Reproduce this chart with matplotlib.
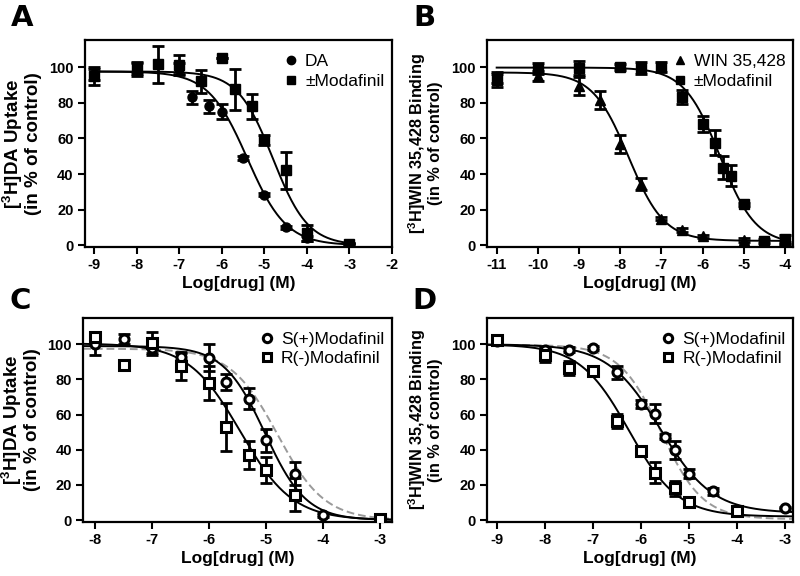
import numpy as np
import matplotlib
matplotlib.use('Agg')
import matplotlib.pyplot as plt
from matplotlib.lines import Line2D

# Panel A: [3H]DA uptake, DA vs racemic modafinil
a_x_da = [-9, -8, -7, -6.7, -6.3, -6, -5.5, -5, -4.5, -4, -3]
a_y_da = [96, 99, 99, 83, 78, 75, 49, 28.5, 10, 4, 1]
a_e_da = [3, 3, 3, 3.5, 3.5, 4, 1, 1, 1, 1.5, 0.5]
a_x_mod = [-9, -8, -7.5, -7, -6.5, -6, -5.7, -5.3, -5, -4.5, -4, -3]
a_y_mod = [95, 99, 101.5, 101, 92, 105, 87.5, 78, 59, 42, 7, 1]
a_e_mod = [5, 4, 10.5, 5.5, 6.5, 0, 11.5, 7, 3, 10.5, 4.5, 0.5]
# fit parameters: top, bottom, logIC50, hill slope
a_fit_da = [97.5, 0, -5.4, 0.95]
a_fit_mod = [97.5, 0, -4.8, 1.05]

# Panel B: [3H]WIN 35,428 binding
b_x_win = [-11, -10, -9, -8.5, -8, -7.5, -7, -6.5, -6, -5, -4]
b_y_win = [94, 95, 89.5, 81.5, 57, 34.5, 15, 8.5, 5, 3, 1]
b_e_win = [3, 3, 5, 5, 5, 3.5, 1, 1, 1, 1, 1]
b_x_mod = [-11, -10, -9, -8, -7.5, -7, -6.5, -6, -5.7, -5.5, -5.3, -5, -4.5, -4]
b_y_mod = [92.5, 99, 99.5, 100, 99.5, 100, 83, 68, 57.5, 43.5, 39, 23, 2.5, 3.5]
b_e_mod = [3.5, 3, 4, 1.5, 3.5, 3, 4, 4.5, 7, 6.5, 6, 1, 1, 2.5]
b_fit_win = [97, 2.5, -7.8, 1.0]
b_fit_mod = [99.7, 0.5, -5.58, 1.0]

# Panel C: [3H]DA uptake, enantiomers
c_x_s = [-8, -7.5, -7, -6.5, -6, -5.7, -5.3, -5, -4.5, -4, -3]
c_y_s = [100, 103, 98, 93, 92.5, 78.5, 69, 45.5, 26.5, 3, 0.5]
c_e_s = [6, 3, 4, 2, 7.5, 4.5, 6, 6.5, 6.5, 1, 0.5]
c_x_r = [-8, -7.5, -7, -6.5, -6, -5.7, -5.3, -5, -4.5, -3]
c_y_r = [104, 88.5, 101, 87.5, 78, 53, 37, 28.5, 14.5, 0.5]
c_e_r = [3, 0, 6, 8, 9.5, 13.5, 8, 7.5, 9.5, 0.5]
c_fit_s = [99, 0, -5.02, 1.2]
c_fit_r = [100.5, 0, -5.45, 0.95]

# Panel D: [3H]WIN 35,428 binding, enantiomers
d_x_s = [-9, -8, -7.5, -7, -6.5, -6, -5.7, -5.5, -5.3, -5, -4.5, -4, -3]
d_y_s = [102, 97, 97, 98, 84, 66, 60.5, 47.5, 40, 26.5, 16.5, 5.5, 7]
d_e_s = [1, 1.5, 1.5, 1, 3.5, 2.5, 5.5, 1.5, 5, 2.5, 2, 1.5, 0.5]
d_x_r = [-9, -8, -7.5, -7, -6.5, -6, -5.7, -5.3, -5, -4]
d_y_r = [102.5, 94, 86.5, 85, 56.5, 39.5, 27, 18, 10.5, 5]
d_e_r = [1.5, 4, 4, 1, 4, 2.5, 6, 4.5, 2, 1]
d_fit_s = [100, 4, -5.6, 0.8]
d_fit_r = [100, 2, -6.25, 0.85]

TICK_FONT = {'family': 'Liberation Sans', 'weight': 'bold', 'size': 10.5}
XLABEL_FONT = {'family': 'Liberation Sans', 'weight': 'bold', 'size': 12.5}
LEGEND_FONT = {'family': 'Liberation Sans', 'size': 12.5}

plt.rcParams['mathtext.fontset'] = 'custom'
plt.rcParams['mathtext.rm'] = 'Liberation Sans'
plt.rcParams['mathtext.bf'] = 'Liberation Sans:bold'


def logistic(x, fit):
    top, bottom, logic50, hill = fit
    return bottom + (top - bottom) / (1 + 10 ** ((x - logic50) * hill))


def draw_curve(ax, fit, x0, x1, color='black', ls='-'):
    xs = np.linspace(x0, x1, 300)
    ax.plot(xs, logistic(xs, fit), color=color, ls=ls, lw=1.4, zorder=2)


def draw_points(ax, x, y, e, marker, open_marker=False, ms=6.5):
    ax.errorbar(x, y, yerr=e, fmt='none', ecolor='black', elinewidth=2,
                capsize=4, capthick=2, zorder=3)
    if open_marker:
        ax.plot(x, y, ls='none', marker=marker, ms=ms, mfc='white',
                mec='black', mew=2.2, zorder=4)
    else:
        ax.plot(x, y, ls='none', marker=marker, ms=ms, color='black', zorder=4)


def style_axes(ax, xlim, xticks, ylabel, ylabel_size, ylabel_pad):
    ax.set_xlim(xlim)
    ax.set_ylim(-1, 115)
    ax.set_xticks(xticks)
    ax.set_yticks([0, 20, 40, 60, 80, 100])
    ax.set_xticklabels([str(t) for t in xticks], fontdict=TICK_FONT)
    ax.set_yticklabels(['0', '20', '40', '60', '80', '100'], fontdict=TICK_FONT)
    ax.tick_params(direction='out', length=5, width=1.5, pad=3)
    for sp in ax.spines.values():
        sp.set_linewidth(1.6)
    ax.set_xlabel('Log[drug] (M)', fontdict=XLABEL_FONT, labelpad=3)
    ax.set_ylabel(ylabel, family='Liberation Sans', fontweight='bold',
                  fontsize=ylabel_size, labelpad=ylabel_pad, linespacing=1.0)


def add_legend(ax, entries, open_marker=False):
    handles = []
    labels = []
    for marker, label in entries:
        if open_marker:
            h = Line2D([], [], ls='none', marker=marker, ms=6, mfc='white',
                       mec='black', mew=2.2)
        else:
            h = Line2D([], [], ls='none', marker=marker, ms=6, color='black')
        handles.append(h)
        labels.append(label)
    ax.legend(handles, labels, loc='upper right', bbox_to_anchor=(1.02, 1.0),
              frameon=False, handlelength=0.8, handletextpad=0.4,
              labelspacing=0.25, borderpad=0.3, prop=LEGEND_FONT)


ylab_uptake = '[$^{\\mathbf{3}}$H]DA Uptake\n(in % of control)'
ylab_binding = '[$^{\\mathbf{3}}$H]WIN 35,428 Binding\n(in % of control)'

fig = plt.figure(figsize=(8, 5.76), dpi=100)

# A
ax = fig.add_axes([0.106, 0.571, 0.384, 0.359])
draw_curve(ax, a_fit_da, -9, -3)
draw_curve(ax, a_fit_mod, -9, -3)
draw_points(ax, a_x_da, a_y_da, a_e_da, 'o')
draw_points(ax, a_x_mod, a_y_mod, a_e_mod, 's')
style_axes(ax, (-9.22, -2), list(range(-9, -1)), ylab_uptake, 13.5, 5)
add_legend(ax, [('o', 'DA'), ('s', '±Modafinil')])

# B
ax = fig.add_axes([0.609, 0.571, 0.3825, 0.359])
draw_curve(ax, b_fit_win, -11, -4)
draw_curve(ax, b_fit_mod, -11, -4)
draw_points(ax, b_x_win, b_y_win, b_e_win, '^')
draw_points(ax, b_x_mod, b_y_mod, b_e_mod, 's')
style_axes(ax, (-11.23, -3.8), list(range(-11, -3)), ylab_binding, 11.7, 6)
add_legend(ax, [('^', 'WIN 35,428'), ('s', '±Modafinil')])

# C
ax = fig.add_axes([0.104, 0.094, 0.386, 0.354])
xl = (-8.21, -2.79)
draw_curve(ax, a_fit_mod, xl[0], xl[1], color='#9a9a9a', ls=(0, (4, 2)))
draw_curve(ax, c_fit_s, xl[0], xl[1])
draw_curve(ax, c_fit_r, xl[0], xl[1])
draw_points(ax, c_x_s, c_y_s, c_e_s, 'o', open_marker=True)
draw_points(ax, c_x_r, c_y_r, c_e_r, 's', open_marker=True)
style_axes(ax, xl, list(range(-8, -2)), ylab_uptake, 13.5, 5)
add_legend(ax, [('o', 'S(+)Modafinil'), ('s', 'R(-)Modafinil')], open_marker=True)

# D
ax = fig.add_axes([0.609, 0.094, 0.3825, 0.354])
xl = (-9.2, -2.83)
draw_curve(ax, b_fit_mod, xl[0], xl[1], color='#9a9a9a', ls=(0, (4, 2)))
draw_curve(ax, d_fit_s, xl[0], xl[1])
draw_curve(ax, d_fit_r, xl[0], xl[1])
draw_points(ax, d_x_s, d_y_s, d_e_s, 'o', open_marker=True)
draw_points(ax, d_x_r, d_y_r, d_e_r, 's', open_marker=True)
style_axes(ax, xl, list(range(-9, -2)), ylab_binding, 11.7, 6)
add_legend(ax, [('o', 'S(+)Modafinil'), ('s', 'R(-)Modafinil')], open_marker=True)

# panel letters
for x, y, letter in [(0.014, 0.993, 'A'), (0.517, 0.993, 'B'),
                     (0.012, 0.502, 'C'), (0.515, 0.502, 'D')]:
    fig.text(x, y, letter, fontsize=21, fontweight='bold',
             family='DejaVu Sans', va='top', ha='left')

fig.savefig('out.png', dpi=100)
